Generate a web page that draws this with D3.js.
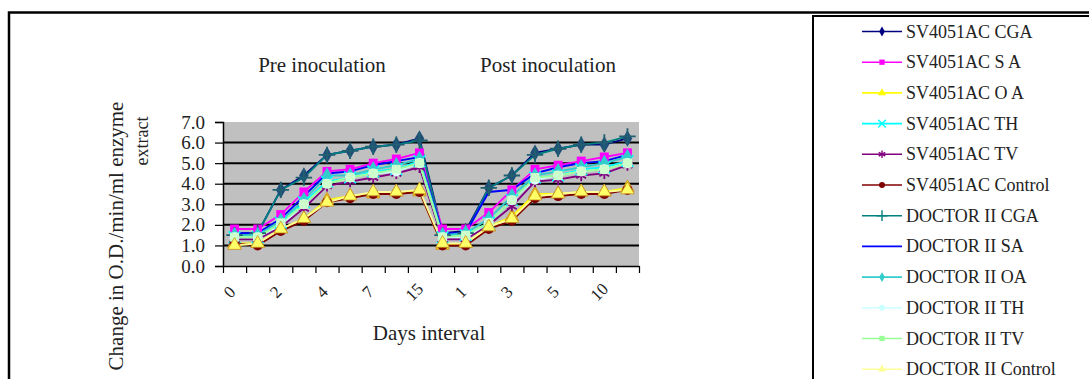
<!DOCTYPE html>
<html><head><meta charset="utf-8">
<script src="https://cdn.jsdelivr.net/npm/d3@7"></script>
<style>body{margin:0;background:#fff}svg{display:block}text{font-family:"Liberation Serif","Times New Roman",serif}</style>
</head><body>
<svg id="c" width="1089" height="379"></svg>
<script>
const categories = ["0","1","2","3","4","5","7","10","15","0","1","2","3","4","5","7","10","15"];
const yTicks = [0,1,2,3,4,5,6,7];
const seriesNames = ["SV4051AC CGA","SV4051AC S A","SV4051AC O A","SV4051AC TH","SV4051AC TV","SV4051AC Control",
  "DOCTOR II CGA","DOCTOR II SA","DOCTOR II OA","DOCTOR II TH","DOCTOR II TV","DOCTOR II Control"];
const svCGA     = [1.6,1.6,3.7,4.4,5.4,5.6,5.8,5.9,6.2, 1.6,1.7,3.8,4.4,5.5,5.7,5.9,5.9,6.2];
const svSA      = [1.8,1.8,2.5,3.6,4.6,4.7,5.0,5.2,5.5, 1.8,1.8,2.6,3.7,4.7,4.9,5.1,5.3,5.5];
const svOA      = [1.1,1.1,1.8,2.3,3.2,3.4,3.5,3.6,3.6, 1.0,1.1,1.9,2.4,3.5,3.5,3.6,3.6,3.8];
const svTH      = [1.4,1.4,2.1,3.1,4.1,4.3,4.6,4.7,5.1, 1.4,1.5,2.1,3.2,4.3,4.4,4.7,4.8,5.1];
const svTV      = [1.3,1.3,1.9,2.8,3.9,4.1,4.3,4.5,4.8, 1.3,1.3,2.0,2.9,4.1,4.2,4.4,4.5,4.9];
const svControl = [1.1,1.0,1.7,2.2,3.1,3.3,3.5,3.5,3.6, 1.0,1.0,1.8,2.2,3.3,3.4,3.5,3.5,3.7];
const drCGA     = [1.5,1.6,3.7,4.3,5.4,5.6,5.8,5.9,6.1, 1.5,1.6,3.8,4.4,5.4,5.7,5.9,6.0,6.3];
const drSA      = [1.6,1.6,2.3,3.4,4.5,4.6,4.9,5.1,5.3, 1.6,1.6,3.6,3.7,4.5,4.8,5.0,5.1,5.4];
const drOA      = [1.5,1.5,2.2,3.2,4.4,4.4,4.7,4.9,5.2, 1.5,1.6,2.3,3.4,4.4,4.6,4.8,5.0,5.3];
const drTH      = [1.4,1.4,2.0,3.0,4.0,4.3,4.5,4.6,5.0, 1.4,1.4,2.1,3.2,4.2,4.4,4.6,4.7,5.0];
const drTV      = [1.4,1.4,2.1,3.0,4.0,4.3,4.5,4.7,5.0, 1.4,1.5,2.1,3.2,4.3,4.4,4.6,4.7,5.0];
const drControl = [1.0,1.1,1.8,2.3,3.1,3.4,3.6,3.6,3.7, 1.1,1.1,1.9,2.3,3.4,3.5,3.6,3.6,3.7];
const seriesValues = [svCGA,svSA,svOA,svTH,svTV,svControl,drCGA,drSA,drOA,drTH,drTV,drControl];

const colors = ["#000080","#FF00FF","#FFFF00","#00FFFF","#800080","#800000","#008080","#0000FF","#33CCCC","#CCFFFF","#99FF99","#FFFF99"];
const sym = (n,f)=> d3[n] || f;
const markers = [d3.symbolDiamond, d3.symbolSquare, d3.symbolTriangle, sym("symbolTimes", d3.symbolCross), sym("symbolAsterisk", d3.symbolStar), d3.symbolCircle,
  sym("symbolPlus", d3.symbolCross), null, d3.symbolDiamond, d3.symbolCircle, d3.symbolSquare, d3.symbolTriangle];
const strokeMarker = [false,false,false,true,true,false,true,false,false,false,false,false];
const markerColors = ["#1F4E79","#FF00FF","#FFD700","#00FFFF","#800080","#800000","#1F5F6F","#0000FF","#33CCCC","#E0FFFF","#CCFFCC","#FFFF66"];

const svg = d3.select("#c");
svg.append("rect").attr("x",9).attr("y",12.5).attr("width",1100).attr("height",400).attr("fill","none").attr("stroke","#000").attr("stroke-width",2.5);

const L=223,R=639,T=122,B=266;
const x = d3.scaleBand().domain(d3.range(categories.length)).range([L,R]);
const xb = d3.scaleLinear().domain([0,categories.length]).range([L,R]);
const y = d3.scaleLinear().domain([0,7]).range([B,T]);

svg.append("rect").attr("x",L).attr("y",T).attr("width",R-L).attr("height",B-T).attr("fill","#C0C0C0");
svg.append("g").selectAll("line").data(yTicks.filter(d=>d>0&&d<7)).join("line")
  .attr("x1",L).attr("x2",R).attr("y1",d=>y(d)).attr("y2",d=>y(d)).attr("stroke","#000").attr("stroke-width",2);

const ya = svg.append("g").attr("transform",`translate(${L},0)`)
  .call(d3.axisLeft(y).tickValues(yTicks).tickFormat(d3.format(".1f")).tickSize(8).tickPadding(10));
ya.select(".domain").attr("stroke","#000").attr("stroke-width",1.5);
ya.selectAll(".tick line").attr("stroke","#000").attr("stroke-width",1.2);
ya.selectAll("text").attr("font-family","Liberation Serif").attr("font-size",19).attr("fill","#222");

const xa = svg.append("g").attr("transform",`translate(0,${B})`)
  .call(d3.axisBottom(xb).tickValues(d3.range(categories.length+1)).tickFormat("").tickSize(7).tickSizeOuter(0));
xa.select(".domain").attr("stroke","#000").attr("stroke-width",1.5);
xa.selectAll(".tick line").attr("stroke","#000").attr("stroke-width",1.2);

svg.append("g").selectAll("text").data(categories.map((c,i)=>({c,i})).filter(d=>d.i%2===0)).join("text")
  .attr("transform",d=>`translate(${x(d.i)+x.bandwidth()/2-5},${B+26}) rotate(-45)`)
  .attr("text-anchor","middle").attr("dominant-baseline","central")
  .attr("font-size",17).attr("fill","#222").text(d=>d.c);

const line = d3.line().x((d,i)=>x(i)+x.bandwidth()/2).y(d=>y(d));
const gS = svg.append("g");
seriesValues.forEach((vals,s)=>{
  gS.append("path").datum(vals).attr("d",line).attr("fill","none").attr("stroke",colors[s]).attr("stroke-width",1.9);
});
seriesValues.forEach((vals,s)=>{
  if(!markers[s]) return;
  gS.append("g").selectAll("path").data(vals).join("path")
    .attr("transform",(d,i)=>`translate(${x(i)+x.bandwidth()/2},${y(d)})`)
    .attr("d",d3.symbol().type(markers[s]).size(strokeMarker[s]?90:80))
    .attr("fill",strokeMarker[s]?"none":markerColors[s])
    .attr("stroke",strokeMarker[s]?markerColors[s]:(s===2||s===11?"#C89020":"none"))
    .attr("stroke-width",strokeMarker[s]?1.8:0.8);
});

svg.append("text").attr("x",322).attr("y",72).attr("text-anchor","middle").attr("font-size",21).attr("fill","#222").text("Pre inoculation");
svg.append("text").attr("x",548).attr("y",72).attr("text-anchor","middle").attr("font-size",21).attr("fill","#222").text("Post inoculation");
svg.append("text").attr("x",429).attr("y",340).attr("text-anchor","middle").attr("font-size",21).attr("fill","#222").text("Days interval");
svg.append("text").attr("transform","translate(123,236) rotate(-90)").attr("text-anchor","middle").attr("font-size",21).attr("fill","#222").text("Change in O.D./min/ml enzyme");
svg.append("text").attr("transform","translate(148,141) rotate(-90)").attr("text-anchor","middle").attr("font-size",18).attr("fill","#222").text("extract");

const lg = svg.append("g");
lg.append("rect").attr("x",813).attr("y",16).attr("width",300).attr("height",400).attr("fill","#fff").attr("stroke","#000").attr("stroke-width",2);
const rowY = i => 31.5 + i*30.7;
seriesNames.forEach((n,s)=>{
  const yy = rowY(s);
  lg.append("line").attr("x1",862).attr("x2",902).attr("y1",yy).attr("y2",yy).attr("stroke",colors[s]).attr("stroke-width",1.6);
  if(markers[s]) lg.append("path").attr("transform",`translate(882,${yy})`)
    .attr("d",d3.symbol().type(markers[s]).size(strokeMarker[s]?40:28))
    .attr("fill",strokeMarker[s]?"none":colors[s]).attr("stroke",strokeMarker[s]?colors[s]:"none").attr("stroke-width",1.4);
  lg.append("text").attr("x",906).attr("y",yy+6).attr("font-size",18).attr("fill","#222").text(n);
});
</script>
</body></html>
